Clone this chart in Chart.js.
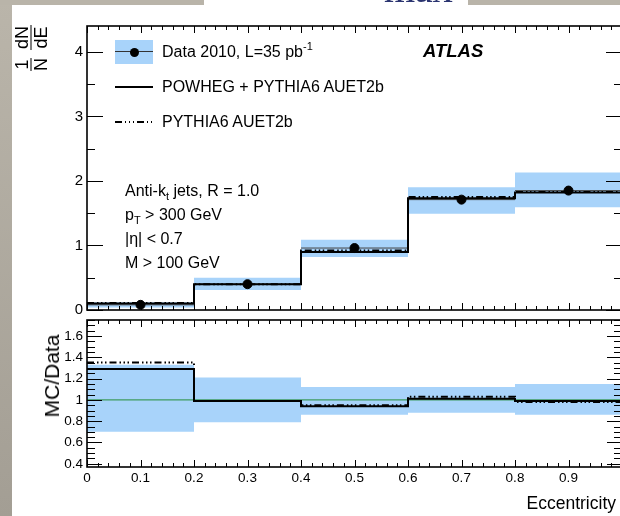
<!DOCTYPE html>
<html>
<head>
<meta charset="utf-8">
<script src="https://cdn.jsdelivr.net/npm/chart.js@4.4.1/dist/chart.umd.min.js"></script>
<style>
  html, body { margin: 0; padding: 0; background: #fff; }
  body { width: 620px; height: 516px; position: relative; overflow: hidden;
         font-family: "Liberation Sans", Arial, Helvetica, sans-serif; color: #000; }
  canvas { position: absolute; left: 0; }
  #mainCanvas { top: 0; }
  #ratioCanvas { top: 316px; }
  .txt { position: absolute; white-space: nowrap; font-size: 16px; line-height: 20px; }
  .sub { font-size: 11px; position: relative; top: 4px; }
  .sup { font-size: 11px; position: relative; top: -7px; }
  .frame { position: absolute; background: #b9b4a9; }
  #leftStrip { left: 0; top: 0; width: 12px; height: 516px; background: linear-gradient(#bab5aa, #a39e94); }
  #topBandL { left: 0; top: 0; width: 204px; height: 5px; }
  #topBandR { left: 468px; top: 0; width: 152px; height: 5px; }
  #cutTitle { position: absolute; left: 384px; top: -31px; font-family: "Liberation Serif", serif;
              font-size: 40px; line-height: 40px; color: #2a3470; }
  .legBox { position: absolute; left: 115px; top: 40px; width: 38px; height: 24px; background: #a8d3fa; }
  .legBar { position: absolute; left: 115px; top: 51px; width: 38px; height: 1px; background: #333; }
  .legDot { position: absolute; left: 129.5px; top: 47.5px; width: 9px; height: 9px; border-radius: 50%; background: #000; }
  .legSolid { position: absolute; left: 115px; top: 86px; width: 38px; height: 2px; background: #000; }
  .legDash { position: absolute; left: 115px; top: 121px; width: 38px; height: 2px;
             background: repeating-linear-gradient(to right, #000 0 7px, transparent 7px 10px, #000 10px 11.5px,
             transparent 11.5px 14px, #000 14px 15.5px, transparent 15.5px 18px, #000 18px 19.5px, transparent 19.5px 22px); }
  #yTitle { position: absolute; left: 31px; top: 48px; transform: translate(-50%, -50%) rotate(-90deg);
            font-size: 18px; white-space: nowrap; display: flex; align-items: center; }
  .frac { display: inline-flex; flex-direction: column; align-items: center; line-height: 16px; margin: 0 4px; }
  .frac span:first-child { border-bottom: 1.2px solid #000; padding: 0 1px 1px; }
  .frac span:last-child { padding-top: 1px; }
  #ratioTitle { position: absolute; left: 52px; top: 376px; transform: translate(-50%, -50%) rotate(-90deg);
                font-size: 21px; white-space: nowrap; }
  #xTitle { position: absolute; right: 4px; top: 492px; font-size: 17.5px; line-height: 22px; }
</style>
</head>
<body>
<canvas id="mainCanvas" width="640" height="320" style="width:640px;height:320px"></canvas>
<canvas id="ratioCanvas" width="640" height="200" style="width:640px;height:200px"></canvas>

<div id="leftStrip" class="frame"></div>
<div id="topBandL" class="frame"></div>
<div id="topBandR" class="frame"></div>
<div id="cutTitle">max</div>

<div id="yTitle"><span class="frac"><span>1</span><span>N</span></span><span class="frac"><span>dN</span><span>dE</span></span></div>

<div class="legBox"></div><div class="legBar"></div><div class="legDot"></div>
<div class="txt" style="left:162px;top:42px">Data 2010, L=35 pb<span class="sup">-1</span></div>
<div class="txt" style="left:423px;top:41px;font-size:18.5px;font-weight:bold;font-style:italic">ATLAS</div>
<div class="legSolid"></div>
<div class="txt" style="left:162px;top:77px">POWHEG + PYTHIA6 AUET2b</div>
<div class="legDash"></div>
<div class="txt" style="left:162px;top:112px">PYTHIA6 AUET2b</div>

<div class="txt" style="left:125px;top:181px">Anti-k<span class="sub">t</span> jets, R = 1.0</div>
<div class="txt" style="left:125px;top:205px">p<span class="sub">T</span> &gt; 300 GeV</div>
<div class="txt" style="left:125px;top:229px">|η| &lt; 0.7</div>
<div class="txt" style="left:125px;top:253px">M &gt; 100 GeV</div>

<div id="ratioTitle">MC/Data</div>
<div id="xTitle">Eccentricity</div>

<script>
const binEdges = [0, 0.2, 0.4, 0.6, 0.8, 1.0];
const binCentres = [0.1, 0.3, 0.5, 0.7, 0.9];

// normalised distribution (upper panel)
const dataValues = [0.08, 0.40, 0.96, 1.71, 1.85];
const dataBandLow = [0.04, 0.31, 0.82, 1.49, 1.59];
const dataBandHigh = [0.12, 0.50, 1.09, 1.90, 2.13];
const powhegValues = [0.10, 0.40, 0.90, 1.73, 1.82];
const pythiaValues = [0.11, 0.40, 0.92, 1.75, 1.83];

// MC / data (lower panel)
const ratioBandLow = [0.70, 0.79, 0.86, 0.88, 0.86];
const ratioBandHigh = [1.33, 1.21, 1.12, 1.12, 1.15];
const powhegRatio = [1.29, 0.99, 0.94, 1.01, 0.99];
const pythiaRatio = [1.35, 0.99, 0.95, 1.03, 0.98];
const unityLine = [1, 1];

const mainTicks = [0, 1, 2, 3, 4];
const ratioTicks = [0.4, 0.6, 0.8, 1, 1.2, 1.4, 1.6];
const eccTicks = [0, 0.1, 0.2, 0.3, 0.4, 0.5, 0.6, 0.7, 0.8, 0.9];

const BAND = '#a8d3fa';
const FONT = '"Liberation Sans", Arial, Helvetica, sans-serif';
const DASHDOT = [7, 3, 1.5, 2.5, 1.5, 2.5, 1.5, 3];

// histogram outline: one point per bin edge, last bin value repeated at the end
function histPoints(vals) {
    return binEdges.map((x, i) => ({ x: x, y: vals[Math.min(i, vals.length - 1)] }));
}

// horizontal bars across each bin, broken between bins
function binBars(vals) {
    return vals.flatMap((v, i) => [
        { x: binEdges[i], y: v },
        { x: binEdges[i + 1], y: v },
        { x: binEdges[i + 1], y: null }
    ]);
}

// closed frame with ticks on all four sides, pointing inwards
const rootFrame = {
    id: 'rootFrame',
    afterDatasetsDraw(chart, args, opts) {
        const { ctx, chartArea: a, scales: { x, y } } = chart;
        ctx.save();
        ctx.strokeStyle = '#000';
        ctx.lineWidth = 1;
        const seg = (x1, y1, x2, y2) => { ctx.beginPath(); ctx.moveTo(x1, y1); ctx.lineTo(x2, y2); ctx.stroke(); };
        const isMajor = (v, major) => Math.abs(v / major - Math.round(v / major)) < 1e-6;

        let first = Math.ceil(x.min / opts.xMinor - 1e-6);
        let last = Math.floor(x.max / opts.xMinor + 1e-6);
        for (let k = first; k <= last; k++) {
            const v = k * opts.xMinor;
            const len = isMajor(v, opts.xMajor) ? opts.xLen[0] : opts.xLen[1];
            const px = Math.round(x.getPixelForValue(v)) + 0.5;
            seg(px, a.bottom, px, a.bottom - len);
            seg(px, a.top, px, a.top + len);
        }
        first = Math.ceil(y.min / opts.yMinor - 1e-6);
        last = Math.floor(y.max / opts.yMinor + 1e-6);
        for (let k = first; k <= last; k++) {
            const v = k * opts.yMinor;
            const len = isMajor(v, opts.yMajor) ? opts.yLen[0] : opts.yLen[1];
            const py = Math.round(y.getPixelForValue(v)) + 0.5;
            seg(a.left, py, a.left + len, py);
            seg(a.right, py, a.right - len, py);
        }
        ctx.lineWidth = 1.6;
        ctx.strokeRect(a.left, a.top, a.right - a.left, a.bottom - a.top);
        ctx.restore();
    }
};

function baseOptions(padding, frame) {
    return {
        responsive: false,
        animation: false,
        events: [],
        layout: { padding: padding, autoPadding: false },
        plugins: { legend: { display: false }, tooltip: { enabled: false }, rootFrame: frame },
        elements: { line: { tension: 0 } }
    };
}

// fixed axis boxes so the plot frames sit where they should
function fixY(s) { s.width = 87; s.paddingTop = 0; s.paddingBottom = 0; }
function fixX(height) {
    return s => { s.height = height; s.paddingLeft = 0; s.paddingRight = 0; };
}

const mainOpts = baseOptions({ top: 26, right: 18, bottom: 10, left: 0 },
    { xMinor: 0.02, xMajor: 0.1, xLen: [7, 4], yMinor: 0.5, yMajor: 1, yLen: [16, 8] });
mainOpts.scales = {
    x: {
        type: 'linear', min: 0, max: 1, bounds: 'data',
        grid: { display: false, drawTicks: false }, border: { display: false },
        ticks: { display: false },
        afterFit: fixX(0)
    },
    y: {
        type: 'linear', min: 0, max: 4.4, bounds: 'data',
        grid: { display: false, drawTicks: false }, border: { display: false },
        afterBuildTicks: s => { s.ticks = mainTicks.map(v => ({ value: v })); },
        ticks: { padding: 4, color: '#000', font: { family: FONT, size: 15 }, callback: v => String(v) },
        afterFit: fixY
    }
};

new Chart(document.getElementById('mainCanvas'), {
    type: 'line',
    data: {
        datasets: [
            { data: binCentres.map((x, i) => ({ x: x, y: dataValues[i] })), showLine: false,
              pointRadius: 4.5, pointBackgroundColor: '#000', pointBorderColor: '#000', order: 0 },
            { data: histPoints(powhegValues), stepped: true, borderColor: '#000', borderWidth: 2,
              pointRadius: 0, order: 1 },
            { data: histPoints(pythiaValues), stepped: true, borderColor: '#000', borderWidth: 2,
              borderDash: DASHDOT, pointRadius: 0, order: 2 },
            { data: binBars(dataValues), borderColor: '#444', borderWidth: 1, pointRadius: 0,
              spanGaps: false, order: 3 },
            { data: histPoints(dataBandHigh), stepped: true, borderColor: 'transparent', borderWidth: 0,
              pointRadius: 0, fill: '+1', backgroundColor: BAND, order: 4 },
            { data: histPoints(dataBandLow), stepped: true, borderColor: 'transparent', borderWidth: 0,
              pointRadius: 0, fill: false, order: 5 }
        ]
    },
    options: mainOpts,
    plugins: [rootFrame]
});

const ratioOpts = baseOptions({ top: 4, right: 18, bottom: 0, left: 0 },
    { xMinor: 0.02, xMajor: 0.1, xLen: [7, 4], yMinor: 0.05, yMajor: 0.2, yLen: [15, 8] });
ratioOpts.scales = {
    x: {
        type: 'linear', min: 0, max: 1, bounds: 'data',
        grid: { display: false, drawTicks: false }, border: { display: false },
        afterBuildTicks: s => { s.ticks = eccTicks.map(v => ({ value: v })); },
        ticks: { padding: 3, color: '#000', autoSkip: false, maxRotation: 0,
                 font: { family: FONT, size: 13.5 }, callback: v => String(v) },
        afterFit: fixX(49)
    },
    y: {
        type: 'linear', min: 0.37, max: 1.75, bounds: 'data',
        grid: { display: false, drawTicks: false }, border: { display: false },
        afterBuildTicks: s => { s.ticks = ratioTicks.map(v => ({ value: v })); },
        ticks: { padding: 4, color: '#000', font: { family: FONT, size: 13.5 }, callback: v => String(v) },
        afterFit: fixY
    }
};

new Chart(document.getElementById('ratioCanvas'), {
    type: 'line',
    data: {
        datasets: [
            { data: histPoints(powhegRatio), stepped: true, borderColor: '#000', borderWidth: 2,
              pointRadius: 0, order: 1 },
            { data: histPoints(pythiaRatio), stepped: true, borderColor: '#000', borderWidth: 2,
              borderDash: DASHDOT, pointRadius: 0, order: 2 },
            { data: unityLine.map((v, i) => ({ x: i ? binEdges[binEdges.length - 1] : binEdges[0], y: v })),
              borderColor: '#3f9b5f', borderWidth: 1.2, pointRadius: 0, order: 3 },
            { data: histPoints(ratioBandHigh), stepped: true, borderColor: 'transparent', borderWidth: 0,
              pointRadius: 0, fill: '+1', backgroundColor: BAND, order: 4 },
            { data: histPoints(ratioBandLow), stepped: true, borderColor: 'transparent', borderWidth: 0,
              pointRadius: 0, fill: false, order: 5 }
        ]
    },
    options: ratioOpts,
    plugins: [rootFrame]
});
</script>
</body>
</html>
